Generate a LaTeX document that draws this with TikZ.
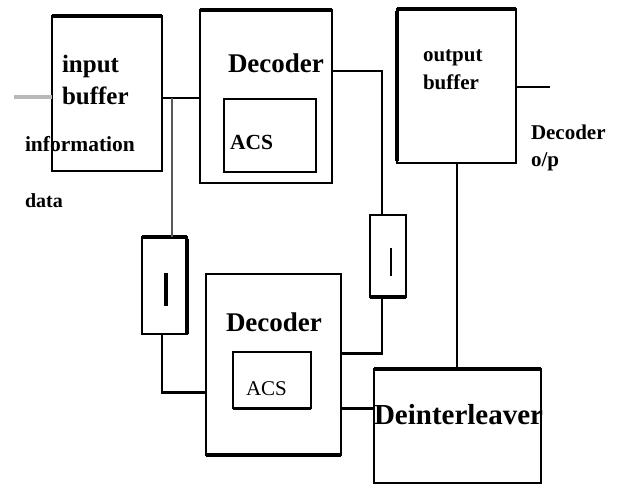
\documentclass[tikz,border=0pt]{standalone}
\usepackage{fontspec}
\setmainfont{Liberation Serif}
\begin{document}
\begin{tikzpicture}[x=1pt,y=-1pt,
  box/.style={draw, line width=1.3pt, rectangle, inner sep=0pt, outer sep=0pt},
  thickedge/.style={line width=4pt},
  wire/.style={line width=1.3pt},
  heavywire/.style={line width=3pt},
  lbl/.style={inner sep=0pt, outer sep=0pt, anchor=base west, align=left, font=\bfseries}
]
\useasboundingbox (0,0) rectangle (618,486);
% boxes
\node[box, minimum width=110pt, minimum height=155pt] (ib) at (107,93.5) {};
\node[box, minimum width=132pt, minimum height=173pt] (dec1) at (266,96.5) {};
\node[box, minimum width=92pt, minimum height=73pt] (acs1) at (270,135.5) {};
\node[box, minimum width=119pt, minimum height=154pt] (ob) at (456.5,86) {};
\node[box, minimum width=45pt, minimum height=97pt] (il1) at (164.5,285.5) {};
\node[box, minimum width=36pt, minimum height=82pt] (il2) at (388,256) {};
\node[box, minimum width=135pt, minimum height=181pt] (dec2) at (273.5,364.5) {};
\node[box, minimum width=78pt, minimum height=56pt] (acs2) at (272,380) {};
\node[box, minimum width=167pt, minimum height=114pt] (dil) at (457.5,426) {};
% thick edges
\draw[thickedge] (ib.north west) -- (ib.north east);
\draw[thickedge] (dec1.north west) -- (dec1.north east);
\draw[thickedge] (ob.north west) -- (ob.north east);
\draw[thickedge] ([yshift=-2pt]ob.north west) -- ([yshift=2pt]ob.south west);
\draw[thickedge] (il1.north west) -- (il1.north east);
\draw[thickedge] ([yshift=-2pt]il1.north east) -- (il1.south east);
\draw[thickedge] (il2.south west) -- (il2.south east);
\draw[thickedge] (dec2.south west) -- (dec2.south east);
\draw[line width=3pt] (acs2.south west) -- (acs2.south east);
\draw[thickedge] (dil.north west) -- (dil.north east);
% interleaver bars
\draw[line width=3.5pt] (166,273) -- (166,306);
\draw[line width=1.5pt] (391,248) -- (391,276);
% texts (multi-line nodes: base = baseline of last line)
\node[lbl, font=\bfseries\fontsize{25}{32}\selectfont] (tib) at (62,105) {input\\buffer};
\node[lbl, font=\bfseries\fontsize{21.5}{26}\selectfont] (tinfo) at (25,152) {information};
\node[lbl, font=\bfseries\fontsize{20}{24}\selectfont] (tdata) at (25,208) {data};
\node[lbl, font=\bfseries\fontsize{27}{32}\selectfont] (tdec1) at (228,73) {Decoder};
\node[lbl, font=\bfseries\fontsize{21.5}{26}\selectfont] (tacs1) at (230,150) {ACS};
\node[lbl, font=\bfseries\fontsize{21}{28}\selectfont] (tob) at (423,90) {output\\buffer};
\node[lbl, font=\bfseries\fontsize{21}{27}\selectfont] (tout) at (531,167) {Decoder\\o/p};
\node[lbl, font=\bfseries\fontsize{27}{32}\selectfont] (tdec2) at (226,331) {Decoder};
\node[lbl, font=\fontsize{21}{26}\selectfont] (tacs2) at (246,395) {ACS};
\node[lbl, font=\bfseries\fontsize{29}{34}\selectfont] (tdil) at (374,424) {Deinterleaver};
% connection points
\coordinate (in) at (14,97);
\coordinate (j1) at (172,98);
\coordinate (c2) at (382,71);
\coordinate (out) at (550,87);
\coordinate (c3) at (162,392);
\coordinate (c4) at (382,353);
\coordinate (c5) at (374,408);
% connectors
\draw[line width=4pt, gray!55] (in) -- (in -| ib.west);
\draw[wire] (j1 -| ib.east) -- (j1 -| dec1.west);
\draw[line width=2pt, gray!70!black] (j1) -- (j1 |- il1.north);
\draw[wire] (c2 -| dec1.east) -- (c2) -- (c2 |- il2.north);
\draw[wire] (out -| ob.east) -- (out);
\draw[wire] (ob.south -| 457,0) -- (dil.north -| 457,0);
\draw[wire] (c3 |- il1.south) -- (c3);
\draw[heavywire] ([xshift=-0.85pt]c3) -- (c3 -| dec2.west);
\draw[wire] (c4 |- il2.south) -- (c4);
\draw[heavywire] ([xshift=0.65pt]c4) -- (c4 -| dec2.east);
\draw[heavywire] (c5 -| dec2.east) -- (c5 -| dil.west);
\end{tikzpicture}
\end{document}
